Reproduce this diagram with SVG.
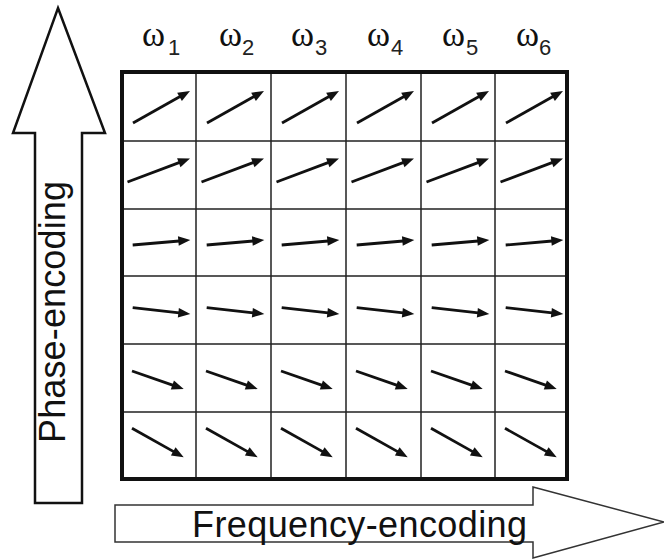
<svg xmlns="http://www.w3.org/2000/svg" xmlns:xlink="http://www.w3.org/1999/xlink" width="664" height="560" viewBox="0 0 664 560">
  <style>
    .bg { fill: #ffffff; }
    .big-arrow { fill: #ffffff; stroke-linejoin: miter; }
    .axis-label { font-family: "Liberation Sans", Arial, sans-serif; font-size: 36px; fill: #111111; }
    .omega { font-family: "Liberation Serif", "Times New Roman", serif; font-size: 35px; fill: #111111; }
    .sub { font-family: "Liberation Sans", Arial, sans-serif; font-size: 22px; fill: #222222; }
    .grid-line { stroke: #222222; stroke-width: 1.5; fill: none; }
    .frame { stroke: #111111; stroke-width: 4; fill: none; }
    .shaft { stroke: #111111; stroke-width: 2.8; fill: none; }
    .tip { fill: #111111; stroke: none; }
  </style>
  <defs>
    <!-- one magnetisation vector per row, in cell-local coordinates: shaft + filled head -->
    <g id="v1"><line class="shaft" x1="11" y1="51" x2="58.5" y2="24.3"/><polygon class="tip" points="68,19 59.89,29.06 55.19,20.68"/></g>
    <g id="v2"><line class="shaft" x1="5.5" y1="41" x2="57.7" y2="21.4"/><polygon class="tip" points="68,17.5 58.46,26.21 55.08,17.23"/></g>
    <g id="v3"><line class="shaft" x1="10.7" y1="36" x2="57.3" y2="32"/><polygon class="tip" points="68.3,31 56.77,36.82 55.93,27.26"/></g>
    <g id="v4"><line class="shaft" x1="10.7" y1="31.7" x2="57.3" y2="36.8"/><polygon class="tip" points="68.3,38 55.85,41.47 56.89,31.93"/></g>
    <g id="v5"><line class="shaft" x1="10" y1="27" x2="51.3" y2="41.4"/><polygon class="tip" points="61.7,45 48.79,45.58 51.95,36.52"/></g>
    <g id="v6"><line class="shaft" x1="10" y1="16.3" x2="52.1" y2="39.9"/><polygon class="tip" points="61.7,45.3 48.89,43.62 53.59,35.24"/></g>
  </defs>

  <rect class="bg" x="0" y="0" width="664" height="560"/>

  <!-- phase-encoding axis -->
  <g id="phase-axis">
    <polygon class="big-arrow" stroke="#111111" stroke-width="2.5" points="58,8 105,133 82,133 82,503 35,503 35,133 13,133"/>
    <text class="axis-label" transform="translate(65,443) rotate(-90)" textLength="262" lengthAdjust="spacing">Phase-encoding</text>
  </g>

  <!-- frequency-encoding axis -->
  <g id="frequency-axis">
    <polygon class="big-arrow" stroke="#333333" stroke-width="1.5" points="115,505 533,505 533,487 664,522 533,558 533,542 115,542"/>
    <text class="axis-label" x="192" y="537" textLength="335" lengthAdjust="spacing">Frequency-encoding</text>
  </g>

  <!-- column frequencies -->
  <g id="frequencies">
    <text class="omega" x="142" y="46">ω</text><text class="sub" x="168" y="55">1</text>
    <text class="omega" x="219" y="46">ω</text><text class="sub" x="242" y="55">2</text>
    <text class="omega" x="291" y="46">ω</text><text class="sub" x="315" y="55">3</text>
    <text class="omega" x="367" y="46">ω</text><text class="sub" x="391" y="55">4</text>
    <text class="omega" x="442" y="46">ω</text><text class="sub" x="466" y="55">5</text>
    <text class="omega" x="516" y="46">ω</text><text class="sub" x="539" y="55">6</text>
  </g>

  <!-- voxel grid -->
  <g id="grid">
    <path class="grid-line" d="M196,72 V479 M271,72 V479 M346,72 V479 M421,72 V479 M495,72 V479
                               M122,141 H567 M122,209 H567 M122,276 H567 M122,344 H567 M122,412 H567"/>
    <rect class="frame" x="122" y="72" width="445" height="407"/>
  </g>

  <!-- vectors in each voxel -->
  <g id="vectors">
    <g id="row1">
      <use xlink:href="#v1" x="122" y="72"/><use xlink:href="#v1" x="196" y="72"/><use xlink:href="#v1" x="271" y="72"/>
      <use xlink:href="#v1" x="346" y="72"/><use xlink:href="#v1" x="421" y="72"/><use xlink:href="#v1" x="495" y="72"/>
    </g>
    <g id="row2">
      <use xlink:href="#v2" x="122" y="141"/><use xlink:href="#v2" x="196" y="141"/><use xlink:href="#v2" x="271" y="141"/>
      <use xlink:href="#v2" x="346" y="141"/><use xlink:href="#v2" x="421" y="141"/><use xlink:href="#v2" x="495" y="141"/>
    </g>
    <g id="row3">
      <use xlink:href="#v3" x="122" y="209"/><use xlink:href="#v3" x="196" y="209"/><use xlink:href="#v3" x="271" y="209"/>
      <use xlink:href="#v3" x="346" y="209"/><use xlink:href="#v3" x="421" y="209"/><use xlink:href="#v3" x="495" y="209"/>
    </g>
    <g id="row4">
      <use xlink:href="#v4" x="122" y="276"/><use xlink:href="#v4" x="196" y="276"/><use xlink:href="#v4" x="271" y="276"/>
      <use xlink:href="#v4" x="346" y="276"/><use xlink:href="#v4" x="421" y="276"/><use xlink:href="#v4" x="495" y="276"/>
    </g>
    <g id="row5">
      <use xlink:href="#v5" x="122" y="344"/><use xlink:href="#v5" x="196" y="344"/><use xlink:href="#v5" x="271" y="344"/>
      <use xlink:href="#v5" x="346" y="344"/><use xlink:href="#v5" x="421" y="344"/><use xlink:href="#v5" x="495" y="344"/>
    </g>
    <g id="row6">
      <use xlink:href="#v6" x="122" y="412"/><use xlink:href="#v6" x="196" y="412"/><use xlink:href="#v6" x="271" y="412"/>
      <use xlink:href="#v6" x="346" y="412"/><use xlink:href="#v6" x="421" y="412"/><use xlink:href="#v6" x="495" y="412"/>
    </g>
  </g>
</svg>
